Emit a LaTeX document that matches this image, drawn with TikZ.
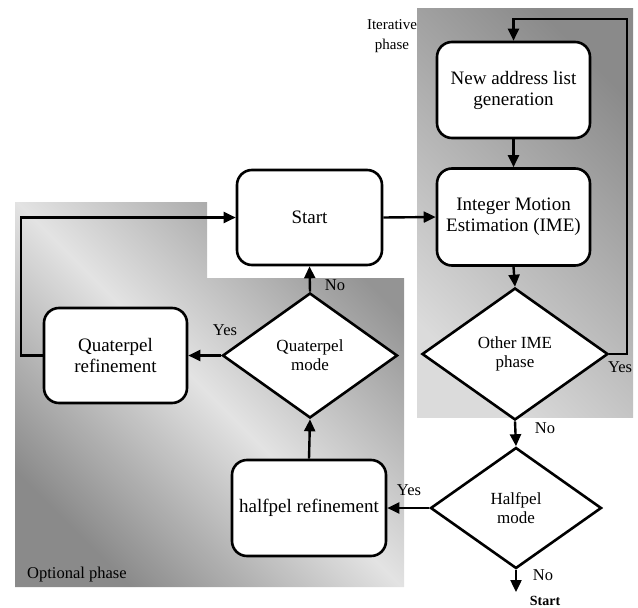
\documentclass[tikz,border=0pt]{standalone}
\usepackage{fontspec}
\setmainfont{Liberation Serif}
\usetikzlibrary{shapes.geometric,arrows.meta}
\begin{document}
\begin{tikzpicture}[x=1pt,y=-1pt,
  procbox/.style={draw,line width=2.6pt,rounded corners=15pt,fill=white,align=center,inner sep=2pt,font=\fontsize{19}{21}\selectfont},
  decision/.style={draw,diamond,line width=2.6pt,fill=white,align=center,inner sep=0pt,aspect=1.4,font=\fontsize{17}{19}\selectfont},
  flow/.style={line width=2.4pt,-{Triangle[length=12pt,width=11pt]}},
  lbl/.style={font=\fontsize{16.5}{18}\selectfont,inner sep=0pt},
]
\useasboundingbox (0,0) rectangle (638,608);

% shaded phase areas
\shade[top color=black!46,bottom color=black!14,shading angle=-45]
  (417,8) rectangle (633,417);
\shade[top color=black!42,bottom color=black!46,middle color=black!11,shading angle=-45]
  (15,202) -- (207,202) -- (207,278) -- (404,278) -- (404,587) -- (15,587) -- cycle;

\node[font=\fontsize{15}{20}\selectfont,align=center,inner sep=0pt] (itlbl) at (392,36) {Iterative\\phase};
\node[lbl,anchor=west] (optlbl) at (27,575) {Optional phase};

% steps and decisions
\node[procbox,minimum width=145pt,minimum height=95pt] (start) at (309.5,217.5) {Start};
\node[procbox,minimum width=153pt,minimum height=96pt] (newaddr) at (513.5,90) {New address list\\generation};
\node[procbox,minimum width=153pt,minimum height=97pt] (ime) at (513.5,217) {Integer Motion\\Estimation (IME)};
\node[decision,minimum width=186pt,minimum height=132pt] (otherime) at (515,354) {Other IME\\phase};
\node[decision,minimum width=171pt,minimum height=121pt] (halfmode) at (516,508) {Halfpel\\mode};
\node[procbox,minimum width=154pt,minimum height=96pt] (halfref) at (309,508) {halfpel refinement};
\node[decision,minimum width=175pt,minimum height=125pt] (quatmode) at (310,355.5) {Quaterpel\\mode};
\node[procbox,minimum width=143pt,minimum height=95pt] (quatref) at (115.5,355.5) {Quaterpel\\refinement};

% connectors
\coordinate (fbL) at (21,217.5);
\coordinate (fbR) at (627,19);
\coordinate (exit) at (516,592);
\draw[flow] (start.east) -- (ime.west);
\draw[flow] (newaddr.south) -- (ime.north);
\draw[flow] (ime.south) -- (otherime.north);
\draw[flow] (otherime.east) -| (fbR) -| (newaddr.north);
\draw[flow] (otherime.south) -- (halfmode.north);
\draw[flow] (halfmode.west) -- (halfref.east);
\draw[flow] (halfmode.south) -- (exit);
\draw[flow] (halfref.north) -- (quatmode.south);
\draw[flow] (quatmode.north) -- (start.south);
\draw[flow] (quatmode.west) -- (quatref.east);
\draw[flow] (quatref.west) -| (fbL) -- (start.west);

% branch labels
\node[lbl] (noA) at (335,285) {No};
\node[lbl] (yesA) at (225,330) {Yes};
\node[lbl] (yesB) at (620,367) {Yes};
\node[lbl] (noB) at (545,428) {No};
\node[lbl] (yesC) at (409,490) {Yes};
\node[lbl] (noC) at (543,575) {No};
\node[font=\bfseries\fontsize{14}{16}\selectfont,inner sep=0pt,anchor=base] (endlbl) at (545,605) {Start};
\end{tikzpicture}
\end{document}
